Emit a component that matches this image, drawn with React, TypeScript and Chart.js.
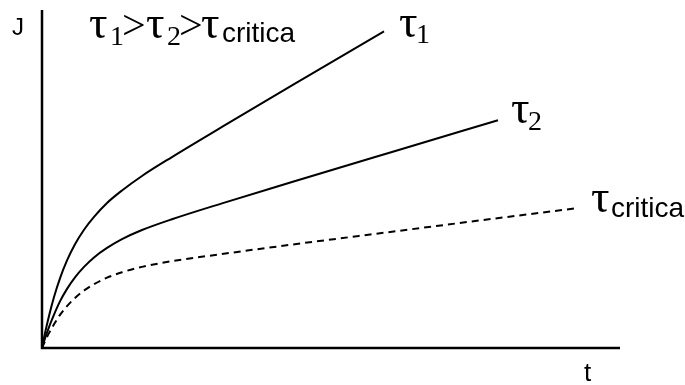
import React, { useEffect, useRef } from "react";
import { Chart, registerables } from "chart.js";

Chart.register(...registerables);

// Creep curves J(t) for three stress levels (arbitrary units, 0–100 on both axes)
const tau1T = [0, 0.52, 1.21, 2.08, 3.11, 4.33, 5.71, 7.27, 9.0, 11.25, 13.84, 17.3, 22.49, 31.14, 43.25, 59.17];
const tau1J = [0, 4.4, 9.5, 15.1, 20.6, 25.9, 30.7, 35.0, 38.8, 42.9, 46.6, 50.9, 56.5, 65.4, 77.7, 93.7];

const tau2T = [0, 0.52, 1.21, 2.08, 3.11, 4.33, 5.71, 7.27, 9.0, 11.25, 13.84, 17.3, 22.49, 31.14, 43.25, 60.55, 78.89];
const tau2J = [0, 2.8, 6.2, 9.9, 13.8, 17.5, 20.9, 24.0, 26.8, 29.6, 32.2, 34.9, 38.1, 42.8, 49.1, 58.0, 67.4];

const tauCT = [0, 0.52, 1.21, 2.08, 3.11, 4.33, 5.71, 7.27, 9.0, 11.25, 13.84, 17.3, 22.49, 31.14, 43.25, 60.55, 77.85, 92.73];
const tauCJ = [0, 2.0, 4.4, 7.0, 9.8, 12.4, 14.8, 17.0, 18.9, 20.8, 22.4, 24.0, 25.7, 27.8, 30.6, 34.4, 38.2, 41.4];

const toPoints = (t: number[], j: number[]) => t.map((x, i) => ({ x, y: j[i] }));

const SERIF = '"Liberation Serif", "Times New Roman", serif';
const SANS = '"Liberation Sans", Arial, sans-serif';

const annotations = {
  id: "creepAnnotations",
  afterDraw(chart: Chart) {
    const { ctx, chartArea } = chart;
    const { left, top, right, bottom } = chartArea;
    ctx.save();
    // axes
    ctx.strokeStyle = "#000";
    ctx.lineWidth = 2.5;
    ctx.beginPath();
    ctx.moveTo(left, top);
    ctx.lineTo(left, bottom);
    ctx.lineTo(right, bottom);
    ctx.stroke();

    ctx.fillStyle = "#000";
    ctx.textBaseline = "alphabetic";
    ctx.textAlign = "left";

    // axis names
    ctx.font = `24px ${SANS}`;
    ctx.fillText("J", 12, 35);
    ctx.font = `26px ${SANS}`;
    ctx.fillText("t", 584, 381);

    const tau = (x: number, y: number) => {
      ctx.font = `46px ${SERIF}`;
      ctx.fillText("τ", x, y);
    };
    const sub = (text: string, x: number, y: number) => {
      ctx.font = `28px ${SERIF}`;
      ctx.fillText(text, x, y);
    };
    const subSans = (text: string, x: number, y: number) => {
      ctx.font = `28px ${SANS}`;
      ctx.fillText(text, x, y);
    };
    const gt = (x: number, y: number) => {
      ctx.font = `42px ${SERIF}`;
      ctx.fillText(">", x, y);
    };

    // ordering of stresses
    tau(89, 38);
    sub("1", 110, 45);
    gt(122, 39);
    tau(146, 38);
    sub("2", 167, 45);
    gt(179, 39);
    tau(201, 38);
    subSans("critica", 222, 42);

    // curve labels
    tau(399, 37);
    sub("1", 416, 43);
    tau(511, 123);
    sub("2", 528, 130);
    tau(591, 212);
    subSans("critica", 611, 217);

    ctx.restore();
  },
};

export default function App() {
  const canvasRef = useRef<HTMLCanvasElement | null>(null);

  useEffect(() => {
    const canvas = canvasRef.current;
    if (!canvas) return;
    const line = {
      borderColor: "#000",
      borderWidth: 2,
      pointRadius: 0,
      fill: false,
      cubicInterpolationMode: "monotone" as const,
      clip: false as const,
    };
    const chart = new Chart(canvas, {
      type: "line",
      data: {
        datasets: [
          { ...line, label: "τ1", data: toPoints(tau1T, tau1J) },
          { ...line, label: "τ2", data: toPoints(tau2T, tau2J) },
          { ...line, label: "τcritica", data: toPoints(tauCT, tauCJ), borderDash: [7, 5] },
        ],
      },
      options: {
        responsive: false,
        animation: false,
        layout: { padding: { left: 42, top: 10, right: 65, bottom: 37 } },
        scales: {
          x: { type: "linear", min: 0, max: 100, display: false },
          y: { type: "linear", min: 0, max: 100, display: false },
        },
        plugins: {
          legend: { display: false },
          tooltip: { enabled: false },
        },
      },
      plugins: [annotations],
    });
    return () => chart.destroy();
  }, []);

  return (
    <div style={{ position: "fixed", left: 0, top: 0, width: 685, height: 385, background: "#fff" }}>
      <canvas ref={canvasRef} width={685} height={385} />
    </div>
  );
}
